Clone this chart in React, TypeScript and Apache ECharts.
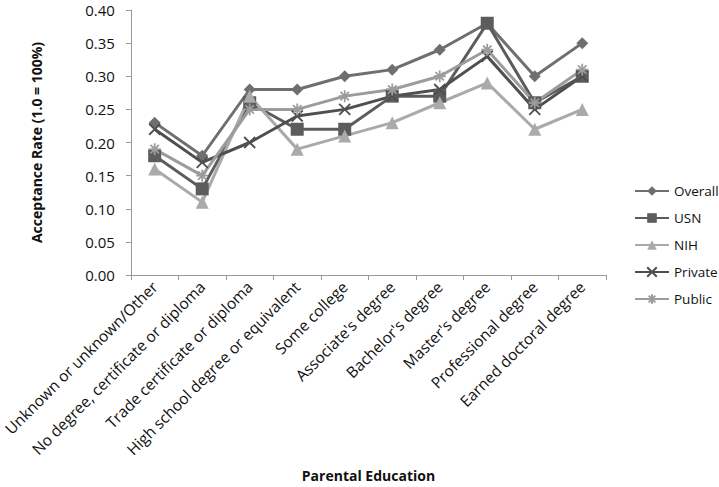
import React, { useEffect, useRef } from "react";
import * as echarts from "echarts";

const categories = [
  "Unknown or unknown/Other",
  "No degree, certificate or diploma",
  "Trade certificate or diploma",
  "High school degree or equivalent",
  "Some college",
  "Associate's degree",
  "Bachelor's degree",
  "Master's degree",
  "Professional degree",
  "Earned doctoral degree",
];
const overall = [0.23, 0.18, 0.28, 0.28, 0.3, 0.31, 0.34, 0.38, 0.3, 0.35];
const usn = [0.18, 0.13, 0.26, 0.22, 0.22, 0.27, 0.27, 0.38, 0.26, 0.3];
const nih = [0.16, 0.11, 0.27, 0.19, 0.21, 0.23, 0.26, 0.29, 0.22, 0.25];
const privateS = [0.22, 0.17, 0.2, 0.24, 0.25, 0.27, 0.28, 0.33, 0.25, 0.3];
const publicS = [0.19, 0.15, 0.25, 0.25, 0.27, 0.28, 0.3, 0.34, 0.26, 0.31];
const yTicks = { min: 0, max: 0.4, interval: 0.05 };

const FONT = "'Open Sans', 'Noto Sans', sans-serif";

const xPath = "path://M0,0L10,10M10,0L0,10";
const starPath = "path://M0,5L10,5M5,0L5,10M1.5,1.5L8.5,8.5M8.5,1.5L1.5,8.5";

export default function App() {
  const ref = useRef<HTMLDivElement>(null);
  useEffect(() => {
    document.body.style.margin = "0";
    if (!ref.current) return;
    const chart = echarts.init(ref.current, undefined, { renderer: "svg" });
    const mk = (name: string, data: number[], color: string, symbol: string, size: number, stroke = false) => ({
      name,
      type: "line",
      data,
      symbol,
      symbolSize: size,
      lineStyle: { color, width: 3 },
      itemStyle: stroke
        ? { color, borderColor: color, borderWidth: 1.8 }
        : { color, borderColor: color, borderWidth: 0 },
      emphasis: { disabled: true },
    });
    chart.setOption({
      animation: false,
      backgroundColor: "#fff",
      grid: { left: 123, right: 113, top: 10, bottom: 212, containLabel: false },
      legend: {
        orient: "vertical",
        left: 629,
        top: 179,
        itemGap: 13,
        itemWidth: 34,
        itemHeight: 12,
        textStyle: { fontFamily: FONT, fontSize: 13.5, color: "#111" },
        data: ["Overall", "USN", "NIH", "Private", "Public"],
      },
      xAxis: {
        type: "category",
        data: categories,
        boundaryGap: true,
        name: "Parental Education",
        nameLocation: "middle",
        nameGap: 193,
        nameTextStyle: { fontFamily: FONT, fontSize: 14, fontWeight: "bold", color: "#111" },
        axisLine: { lineStyle: { color: "#999", width: 1 } },
        axisTick: { show: true, alignWithLabel: false, length: 5, lineStyle: { color: "#999" } },
        axisLabel: { rotate: 45, interval: 0, fontFamily: FONT, fontSize: 15.5, color: "#111", margin: 9 },
        splitLine: { show: false },
      },
      yAxis: {
        type: "value",
        min: yTicks.min,
        max: yTicks.max,
        interval: yTicks.interval,
        name: "Acceptance Rate (1.0 = 100%)",
        nameLocation: "middle",
        nameGap: 87,
        nameTextStyle: { fontFamily: FONT, fontSize: 14, fontWeight: "bold", color: "#111" },
        axisLine: { show: true, lineStyle: { color: "#999", width: 1 } },
        axisTick: { show: true, length: 5, lineStyle: { color: "#999" } },
        axisLabel: { fontFamily: FONT, fontSize: 15, color: "#111", formatter: (v: number) => v.toFixed(2), margin: 16 },
        splitLine: { show: false },
      },
      series: [
        mk("Overall", overall, "#6f6f6f", "diamond", 12),
        mk("USN", usn, "#5c5c5c", "rect", 13),
        mk("NIH", nih, "#aaaaaa", "triangle", 13),
        mk("Private", privateS, "#4f4f4f", xPath, 11, true),
        mk("Public", publicS, "#9c9c9c", starPath, 12, true),
      ],
    });
    return () => chart.dispose();
  }, []);
  return <div ref={ref} style={{ width: 719, height: 487 }} />;
}
